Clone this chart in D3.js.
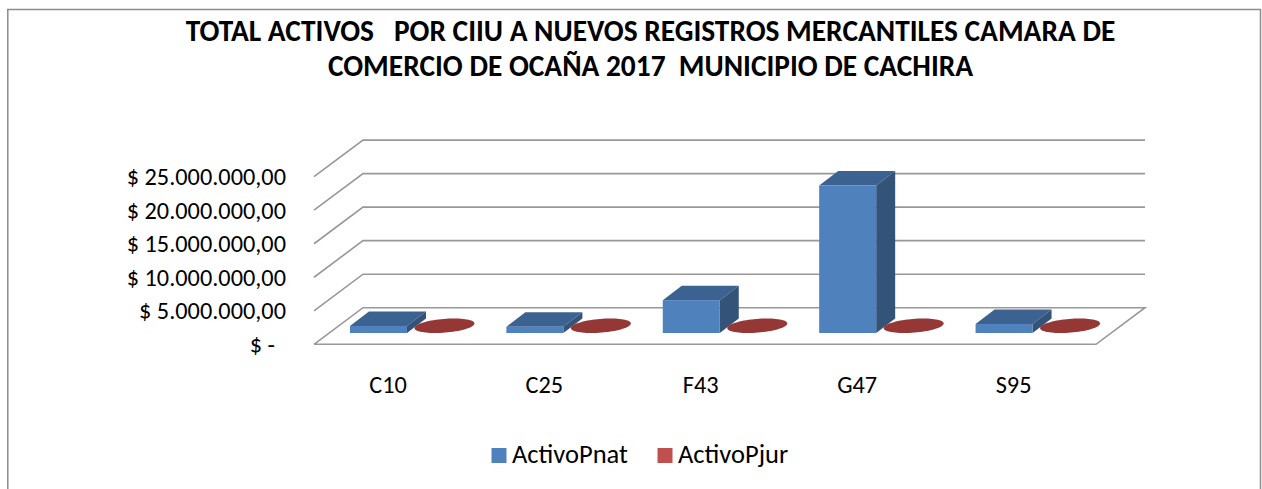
<!DOCTYPE html>
<html><head><meta charset="utf-8">
<script src="https://cdn.jsdelivr.net/npm/d3@7/dist/d3.min.js"></script>
<style>html,body{margin:0;padding:0;background:#fff}svg{display:block}text{font-family:Carlito,Lato,"Open Sans",sans-serif;fill:#000}</style>
</head><body><svg id="c" width="1262" height="489"></svg>
<script>
const categories = ["C10","C25","F43","G47","S95"];
const activoPnat = [1040000,940000,4900000,22000000,1340000];
const activoPjur = [0,0,0,0,0];
const yTicks = [0,5000000,10000000,15000000,20000000,25000000];
const yTickLabels = ["$ -  ","$ 5.000.000,00","$ 10.000.000,00","$ 15.000.000,00","$ 20.000.000,00","$ 25.000.000,00"];
const titleLines = ["TOTAL ACTIVOS   POR CIIU A NUEVOS REGISTROS MERCANTILES CAMARA DE","COMERCIO DE OCAÑA 2017  MUNICIPIO DE CACHIRA"];
const seriesNames = ["ActivoPnat","ActivoPjur"];

const svg = d3.select("#c");
const frontX0=314, frontX1=1096, floorY=344.3, topY=176.7;
const wallDX=49, wallDY=36.6;
const barDX=19, barDY=14.5, barInsetY=11.3;
const x = d3.scaleBand().domain(categories).range([frontX0,frontX1]).paddingInner(0).paddingOuter(0);
const y = d3.scaleLinear().domain([0,25000000]).range([floorY,topY]);
const step = x.step();
const barW = 57;
const barLeft = c => x(c)+step*0.23;
const line = d3.line();

// frame
svg.append("path").attr("d","M7.8,489V9.5H1260.5V489").attr("fill","none").attr("stroke","#8c8c8c").attr("stroke-width",1.5);

// title
svg.selectAll("text.title").data(titleLines).join("text").attr("class","title")
 .attr("x",650.5).attr("y",(d,i)=>[41,76][i]).attr("text-anchor","middle")
 .attr("font-weight","bold").attr("font-size",29.4).style("white-space","pre").text(d=>d);

// gridlines + side wall
const gridC="#989898";
yTicks.forEach(t=>{
  const py=y(t);
  svg.append("path").attr("fill","none").attr("stroke",gridC).attr("stroke-width",1.6)
   .attr("d",t===0
     ? line([[frontX0,py],[frontX0+wallDX,py-wallDY],[frontX1+wallDX,py-wallDY],[frontX1,py],[frontX0,py]])
     : line([[frontX0,py],[frontX0+wallDX,py-wallDY],[frontX1+wallDX,py-wallDY]]));
});

// y labels
svg.selectAll("text.yl").data(yTicks).join("text").attr("class","yl")
 .attr("x",286).attr("y",t=>y(t)+8.5).attr("text-anchor","end").attr("font-size",24.3)
 .style("white-space","pre").text((t,i)=>yTickLabels[i]);

// x labels
svg.selectAll("text.xl").data(categories).join("text").attr("class","xl")
 .attr("x",c=>barLeft(c)+barW/2+9.5).attr("y",393).attr("text-anchor","middle").attr("font-size",24.3).text(c=>c);

// bars and flat (zero value) cylinders
const baseY = floorY-barInsetY;
categories.forEach((c,i)=>{
  const xl=barLeft(c), xr=xl+barW, h=floorY-y(activoPnat[i]), yt=baseY-h;
  svg.append("path").attr("fill","#3c6291").attr("d",line([[xl,yt],[xl+barDX,yt-barDY],[xr+barDX,yt-barDY],[xr,yt]])+"Z");
  svg.append("path").attr("fill","#345378").attr("d",line([[xr,yt],[xr+barDX,yt-barDY],[xr+barDX,baseY-barDY],[xr,baseY]])+"Z");
  svg.append("rect").attr("x",xl).attr("y",yt).attr("width",barW).attr("height",h).attr("fill","#4f81bd");
  const hj=floorY-y(activoPjur[i]);
  const cx=xr+37.5, cy=baseY-hj-barDY/2;
  const pts=d3.range(0,72).map(k=>{const a=k/72*2*Math.PI;return [cx+barW/2*Math.cos(a)+barDX/2*Math.sin(a), cy-barDY/2*Math.sin(a)];});
  svg.append("path").attr("fill","#953735").attr("d",line(pts)+"Z");
});

// legend
const legX=[491.5,657.5], legTX=[512,678];
seriesNames.forEach((n,i)=>{
  svg.append("rect").attr("x",legX[i]).attr("y",448).attr("width",15).attr("height",15).attr("fill",["#4f81bd","#c0504d"][i]);
  svg.append("text").attr("x",legTX[i]).attr("y",463).attr("font-size",26.5).text(n);
});
</script></body></html>
